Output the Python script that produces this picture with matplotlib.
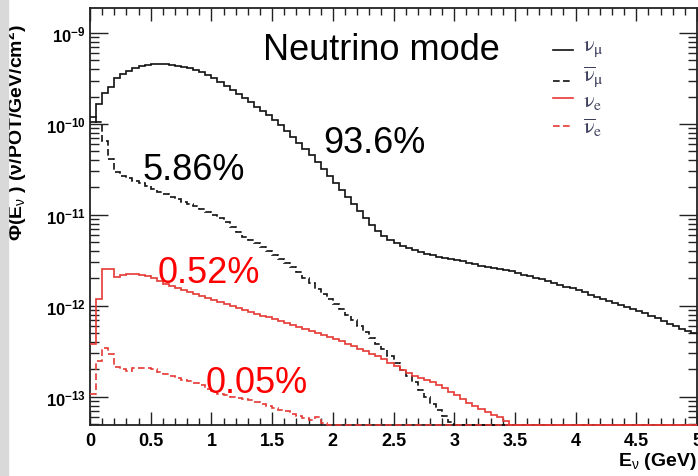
import numpy as np
import matplotlib
matplotlib.use("Agg")
import matplotlib.pyplot as plt
from matplotlib.patches import Rectangle
from matplotlib.ticker import MultipleLocator, FixedLocator, LogLocator, NullFormatter, FormatStrFormatter

# -------------------------------------------------------
# Flux histograms, 0.05 GeV bins from 0 to 5 GeV
# (nu/POT/GeV/cm^2)
# -------------------------------------------------------
e_min, e_max, n_bins = 0.0, 5.0, 100

nu_mu = [
    1.05e-10, 1.66e-10, 2.19e-10, 2.55e-10, 3.20e-10, 3.54e-10, 3.82e-10, 4.12e-10, 4.34e-10, 4.45e-10,
    4.56e-10, 4.56e-10, 4.56e-10, 4.45e-10, 4.34e-10, 4.23e-10, 4.12e-10, 3.92e-10, 3.72e-10, 3.45e-10,
    3.20e-10, 2.90e-10, 2.62e-10, 2.37e-10, 2.14e-10, 1.93e-10, 1.75e-10, 1.54e-10, 1.39e-10, 1.26e-10,
    1.11e-10, 9.75e-11, 8.37e-11, 7.19e-11, 6.18e-11, 5.31e-11, 4.56e-11, 3.82e-11, 3.20e-11, 2.69e-11,
    2.25e-11, 1.88e-11, 1.58e-11, 1.32e-11, 1.11e-11, 9.27e-12, 7.76e-12, 6.67e-12, 5.88e-12, 5.31e-12,
    4.92e-12, 4.56e-12, 4.34e-12, 4.12e-12, 3.92e-12, 3.72e-12, 3.63e-12, 3.45e-12, 3.37e-12, 3.28e-12,
    3.20e-12, 3.12e-12, 2.97e-12, 2.90e-12, 2.75e-12, 2.69e-12, 2.62e-12, 2.55e-12, 2.49e-12, 2.43e-12,
    2.31e-12, 2.19e-12, 2.14e-12, 2.03e-12, 1.98e-12, 1.88e-12, 1.79e-12, 1.70e-12, 1.62e-12, 1.58e-12,
    1.50e-12, 1.43e-12, 1.32e-12, 1.26e-12, 1.19e-12, 1.14e-12, 1.08e-12, 1.03e-12, 9.75e-13, 9.27e-13,
    8.81e-13, 8.37e-13, 7.76e-13, 7.38e-13, 6.84e-13, 6.34e-13, 6.03e-13, 5.59e-13, 5.31e-13, 5.05e-13,
]

nu_mu_bar = [
    1.19e-10, 1.05e-10, 6.50e-11, 4.12e-11, 2.97e-11, 2.69e-11, 2.55e-11, 2.37e-11, 2.25e-11, 2.08e-11,
    1.93e-11, 1.79e-11, 1.70e-11, 1.58e-11, 1.50e-11, 1.39e-11, 1.32e-11, 1.26e-11, 1.16e-11, 1.08e-11,
    1.00e-11, 9.27e-12, 8.37e-12, 7.38e-12, 6.50e-12, 5.73e-12, 5.31e-12, 4.92e-12, 4.45e-12, 4.02e-12,
    3.63e-12, 3.28e-12, 2.97e-12, 2.69e-12, 2.37e-12, 2.03e-12, 1.79e-12, 1.54e-12, 1.36e-12, 1.19e-12,
    1.05e-12, 9.27e-13, 7.96e-13, 7.02e-13, 6.03e-13, 5.18e-13, 4.45e-13, 3.82e-13, 3.37e-13, 2.82e-13,
    2.37e-13, 1.98e-13, 1.70e-13, 1.46e-13, 1.19e-13, 1.00e-13, 8.37e-14, 7.19e-14, 6.18e-14, 5.31e-14,
]

nu_e = [
    3.82e-13, 1.19e-12, 2.55e-12, 2.55e-12, 2.08e-12, 2.19e-12, 2.25e-12, 2.25e-12, 2.19e-12, 2.14e-12,
    2.03e-12, 1.88e-12, 1.75e-12, 1.66e-12, 1.58e-12, 1.50e-12, 1.43e-12, 1.36e-12, 1.29e-12, 1.22e-12,
    1.16e-12, 1.11e-12, 1.05e-12, 1.00e-12, 9.51e-13, 9.04e-13, 8.59e-13, 8.17e-13, 7.76e-13, 7.57e-13,
    7.19e-13, 6.84e-13, 6.50e-13, 6.18e-13, 5.88e-13, 5.59e-13, 5.31e-13, 5.05e-13, 4.80e-13, 4.56e-13,
    4.34e-13, 4.12e-13, 3.82e-13, 3.63e-13, 3.37e-13, 3.20e-13, 2.97e-13, 2.82e-13, 2.62e-13, 2.37e-13,
    2.19e-13, 1.98e-13, 1.84e-13, 1.70e-13, 1.62e-13, 1.54e-13, 1.46e-13, 1.36e-13, 1.26e-13, 1.14e-13,
    1.05e-13, 9.51e-14, 8.59e-14, 7.96e-14, 7.38e-14, 6.84e-14, 6.34e-14, 6.03e-14, 5.45e-14,
]

nu_e_bar = [
    1.08e-13, 2.49e-13, 3.45e-13, 2.97e-13, 2.14e-13, 2.03e-13, 1.93e-13, 2.08e-13, 2.08e-13, 2.08e-13,
    2.03e-13, 1.88e-13, 1.79e-13, 1.70e-13, 1.62e-13, 1.54e-13, 1.50e-13, 1.43e-13, 1.36e-13, 1.22e-13,
    1.14e-13, 1.08e-13, 1.05e-13, 1.00e-13, 9.75e-14, 9.51e-14, 9.27e-14, 8.81e-14, 8.37e-14, 7.96e-14,
    7.57e-14, 7.19e-14, 7.02e-14, 6.50e-14, 6.18e-14, 5.88e-14, 5.59e-14, 6.03e-14, 5.18e-14,
]

series_labels = [r"$\mathrm{\nu_\mu}$", r"$\mathrm{\overline{\nu}_\mu}$",
                 r"$\mathrm{\nu_e}$", r"$\mathrm{\overline{\nu}_e}$"]
fraction_labels = ["93.6%", "5.86%", "0.52%", "0.05%"]
y_exponents = [-13, -12, -11, -10, -9]

# -------------------------------------------------------
# Figure / axes (ROOT-like style)
# -------------------------------------------------------
plt.rcParams["font.family"] = ["Liberation Sans", "DejaVu Sans"]
plt.rcParams["mathtext.fontset"] = "custom"
plt.rcParams["mathtext.rm"] = "Liberation Sans"
plt.rcParams["mathtext.bf"] = "Liberation Sans:bold"
plt.rcParams["mathtext.it"] = "Liberation Sans:italic"

fig = plt.figure(figsize=(6.98, 4.77), dpi=100)
fig.patches.append(Rectangle((0, 0), 8 / 698, 1, transform=fig.transFigure,
                             color="#d9d9d9", zorder=0))
ax = fig.add_axes([90 / 698, 51 / 477, 607 / 698, 417 / 477])

y_lo, y_hi = 4.9e-14, 1.88e-9
edges = np.linspace(e_min, e_max, n_bins + 1)

black = "#111111"
red = "#e53935"
styles = [
    (nu_mu, black, "-"),
    (nu_mu_bar, black, (0, (4, 2))),
    (nu_e, red, "-"),
    (nu_e_bar, red, (0, (4, 2))),
]

for vals, col, ls in styles:
    v = np.pad(np.asarray(vals, dtype=float), (0, n_bins - len(vals)))
    v = np.maximum(v, y_lo)
    ax.stairs(v, edges, baseline=None, color=col, linestyle=ls,
              linewidth=1.2, zorder=3, clip_on=False)

ax.set_yscale("log")
ax.set_xlim(e_min, e_max)
ax.set_ylim(y_lo, y_hi)

# ticks
ax.xaxis.set_major_locator(MultipleLocator(0.5))
ax.xaxis.set_minor_locator(MultipleLocator(0.1))
ax.xaxis.set_major_formatter(FormatStrFormatter("%g"))
ax.yaxis.set_major_locator(FixedLocator([10.0 ** e for e in y_exponents]))
ax.set_yticklabels([r"$\mathbf{10^{%d}}$" % e for e in y_exponents])
ax.yaxis.set_minor_locator(LogLocator(base=10, subs=np.arange(2, 10), numticks=30))
ax.yaxis.set_minor_formatter(NullFormatter())

ax.tick_params(which="both", direction="in", top=True, right=True, color="#222222")
ax.tick_params(axis="x", which="major", length=9.5, width=1.0, labelsize=13, pad=5)
ax.tick_params(axis="x", which="minor", length=5, width=1.0)
ax.tick_params(axis="y", which="major", length=13, width=1.0, labelsize=12, pad=3)
ax.tick_params(axis="y", which="minor", length=6.5, width=1.0)
for lab in ax.get_xticklabels():
    lab.set_fontweight("bold")
for sp in ax.spines.values():
    sp.set_linewidth(1.3)
    sp.set_color("#222222")

# axis titles
ax.set_xlabel(r"E$_\mathrm{\nu}$ (GeV)", fontsize=14, fontweight="bold", loc="right")
ax.xaxis.set_label_coords(1.0, -0.06)
ax.set_ylabel(r"Φ(E$_\mathrm{\nu}$ ) (ν/POT/GeV/cm$^\mathbf{2}$)", fontsize=14, fontweight="bold")
ax.yaxis.set_label_coords(-0.1, 0.705)

# annotations
ax.text(1.425, 5.18e-10, "Neutrino mode", fontsize=26, color="black", va="baseline")
ax.text(1.92, 4.92e-11, fraction_labels[0], fontsize=26, color="black", va="baseline")
ax.text(0.43, 2.49e-11, fraction_labels[1], fontsize=26, color="black", va="baseline")
ax.text(0.56, 1.84e-12, fraction_labels[2], fontsize=26, color="red", va="baseline")
ax.text(0.95, 1.14e-13, fraction_labels[3], fontsize=26, color="red", va="baseline")

# legend (drawn by hand, ROOT TLegend look)
leg_line_y = [0.899, 0.825, 0.784, 0.717]
leg_text_y = [0.906, 0.837, 0.777, 0.715]
for (vals, col, ls), lab, yl, yt in zip(styles, series_labels, leg_line_y, leg_text_y):
    ax.plot([0.763, 0.796], [yl, yl], color=col, linestyle=ls, linewidth=1.2,
            transform=ax.transAxes)
    ax.text(0.812, yt, lab, transform=ax.transAxes, fontsize=16, color="#3b3f5c",
            va="center", ha="left", math_fontfamily="stix")

fig.savefig("out.png", dpi=100)
